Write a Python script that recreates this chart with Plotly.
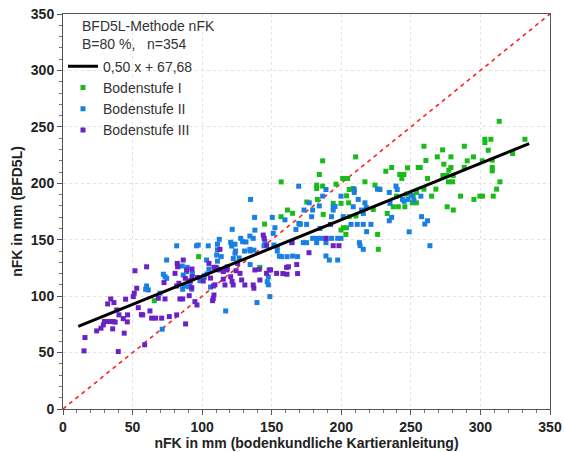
import plotly.graph_objects as go

# ---------------- data ----------------
green_x = [65.6, 97.5, 141.5, 144.9, 156.7, 156.8, 161.3, 165.0,
           313.5, 332.0, 303.2, 307.5, 303.2, 305.6, 323.1, 288.4, 295.0, 301.3, 308.5, 308.5, 308.5,
           314.0, 311.6, 309.2, 299.6, 301.5, 295.3, 285.7, 290.5, 288.4, 278.8, 278.8, 272.8, 269.0,
           273.7, 277.3, 276.0, 273.0, 280.5, 277.0, 280.0, 268.0, 264.9, 276.1, 280.5, 259.4, 260.8,
           262.0, 259.4, 255.3, 256.7, 247.6, 242.0, 245.0, 243.5, 247.0, 254.1, 251.7, 251.0, 254.0,
           245.7, 241.0, 237.4, 239.7, 236.2, 232.0, 233.0, 226.1, 226.6, 224.2, 227.8, 223.0, 217.0,
           210.3, 210.5, 205.7, 208.6, 203.8, 205.3, 199.8, 205.7, 199.8, 203.8, 201.5, 203.3, 201.0,
           204.5, 196.2, 194.2, 186.6, 184.2, 182.3, 182.3, 186.6, 182.8, 187.0, 175.2, 170.6]
green_y = [96.0, 135.0, 125.5, 163.8, 170.4, 201.2, 176.3, 173.4,
           254.9, 239.0, 239.0, 239.0, 236.0, 229.3, 226.4, 232.8, 223.4, 219.9, 220.5, 214.0, 211.0,
           201.3, 194.8, 188.6, 188.6, 188.6, 185.7, 188.6, 219.9, 214.0, 223.4, 214.0, 229.6, 223.4,
           216.9, 211.6, 207.0, 207.0, 207.0, 201.3, 201.3, 194.8, 188.6, 179.2, 176.3, 232.8, 220.2,
           204.3, 194.8, 214.0, 214.0, 213.7, 207.8, 207.8, 204.3, 190.4, 191.9, 188.6, 182.7, 182.7,
           179.2, 179.2, 179.2, 188.6, 214.0, 210.7, 173.3, 154.7, 141.5, 198.4, 194.5, 176.8, 201.3,
           223.4, 171.0, 194.5, 195.4, 188.9, 182.7, 182.2, 170.4, 158.6, 160.6, 160.6, 154.7, 204.3,
           204.3, 199.2, 182.2, 219.9, 207.8, 198.4, 195.4, 197.5, 185.7, 172.4, 183.4, 164.0]

blue_x = [60.1, 59.4, 61.3, 69.7, 71.3, 72.1, 73.3, 74.5, 74.5, 81.7, 85.7, 86.9, 86.0, 86.4, 89.3, 88.9,
          90.0, 91.2, 92.5, 93.0, 96.0, 97.2, 98.4, 101.3, 101.5, 103.2, 104.4, 104.9, 103.4, 106.0,
          110.4, 111.0, 111.0, 111.0, 112.3, 113.7, 116.9, 118.0, 120.5, 121.2, 121.6, 122.4, 123.6,
          123.6, 124.0, 126.6, 127.7, 129.1, 130.5, 131.5, 134.8, 134.3, 134.3, 134.5, 134.5, 136.7,
          137.9, 137.2, 137.7, 139.4, 144.5, 145.1, 146.8, 147.6, 147.6, 148.7, 150.4, 151.1, 151.6,
          152.3, 154.0, 154.0, 157.0, 159.5, 161.0, 155.5, 165.0, 164.5, 168.6, 169.4, 169.5, 167.4,
          239.3, 240.2, 234.5, 244.0, 248.0, 248.8, 257.2, 257.7, 260.0, 262.0, 263.7, 235.0, 234.5,
          236.2, 226.0, 227.5, 214.6, 215.8, 217.0, 212.2, 208.6, 207.0, 211.5, 215.8, 221.3, 209.3,
          209.3, 199.8, 201.4, 218.2, 213.0, 213.5, 215.8, 199.8, 197.4, 193.0, 189.0, 185.4, 182.3,
          179.4, 189.0, 182.3, 175.1, 172.7, 194.2, 194.2, 195.5, 193.0, 189.0, 186.6, 184.2, 179.4,
          173.2, 177.0, 178.7, 175.1, 170.3, 184.7, 189.0, 191.4, 197.4, 245.2, 250.5, 252.2, 218.0]
blue_y = [109.0, 106.1, 105.5, 102.6, 70.7, 119.4, 117.2, 115.8, 132.0, 144.6, 126.7, 109.3, 106.1,
          118.7, 125.5, 121.7, 108.4, 109.0, 106.1, 120.0, 144.6, 145.3, 113.7, 117.9, 116.7, 132.0,
          144.6, 124.0, 119.6, 108.0, 136.4, 131.0, 141.0, 146.0, 150.3, 135.0, 86.9, 126.0, 147.7,
          144.4, 159.2, 133.3, 146.0, 138.0, 140.0, 133.8, 151.2, 148.2, 140.0, 148.0, 185.7, 153.2,
          141.5, 140.0, 128.0, 151.2, 158.5, 140.8, 169.8, 94.3, 144.6, 148.2, 112.8, 117.0, 110.0,
          99.6, 169.8, 155.6, 145.3, 160.6, 140.0, 144.0, 135.0, 167.6, 135.0, 135.5, 135.5, 147.3,
          135.0, 197.4, 164.4, 159.1,
          197.5, 194.5, 191.9, 185.7, 185.7, 157.0, 188.6, 170.4, 163.9, 166.8, 144.7, 182.2, 166.8,
          169.8, 194.8, 194.8, 176.3, 173.3, 182.7, 185.7, 179.2, 163.6, 163.6, 163.6, 163.6, 194.5,
          191.9, 188.6, 170.4, 157.1, 147.4, 144.7, 141.5, 151.2, 151.2, 151.2, 151.2, 151.2, 151.2,
          151.2, 147.4, 147.4, 147.4, 147.4, 179.2, 176.3, 179.5, 170.4, 194.5, 188.6, 180.0, 176.3,
          176.3, 182.7, 170.4, 163.6, 163.6, 160.0, 135.6, 132.0, 132.0, 184.0, 189.5, 185.0, 178.6]

purple_x = [15.1, 15.8, 24.2, 27.3, 29.0, 29.7, 32.0, 34.0, 36.1, 37.5, 35.7, 32.1, 34.3, 36.6, 38.6,
            40.2, 39.7, 43.3, 44.0, 46.2, 46.4, 45.0, 50.5, 51.2, 53.0, 54.1, 51.7, 56.3, 57.3, 58.7,
            60.1, 62.5, 63.7, 66.6, 68.5, 70.9, 72.6, 73.3, 76.4, 80.5, 81.7, 81.7, 82.1, 82.4, 83.3,
            84.0, 86.0, 86.4, 88.1, 87.9, 88.9, 90.5, 91.5, 90.7, 92.5, 92.7, 92.7, 94.8, 96.3, 96.7,
            100.8, 104.9, 106.0, 107.5, 108.0, 108.5, 108.0, 109.2, 108.5, 110.0, 111.0, 112.3, 112.8,
            115.2, 116.4, 117.6, 115.2, 118.0, 120.5, 121.5, 122.3, 124.4, 125.5, 127.2, 128.4, 130.7,
            136.7, 137.2, 137.9, 141.0, 141.5, 143.9, 144.6, 146.3, 146.3, 148.2, 149.2, 153.5, 158.0,
            160.7, 161.0, 162.0, 164.5, 168.0, 168.6, 176.8, 192.3, 189.0, 194.2, 198.3]
purple_y = [51.5, 63.3, 69.2, 71.6, 74.5, 77.5, 77.5, 77.5, 77.5, 77.0, 71.0, 93.1, 97.5, 94.3, 87.8,
            83.4, 50.9, 80.1, 67.2, 77.2, 83.4, 97.3, 99.6, 102.6, 107.0, 89.8, 122.5, 83.6, 83.4, 56.9,
            126.0, 86.9, 80.5, 80.5, 98.1, 80.5, 112.0, 97.5, 81.9, 120.2, 83.4, 109.0, 129.0, 126.0,
            111.4, 97.5, 97.5, 132.0, 75.4, 115.8, 123.2, 113.4, 113.4, 100.4, 107.5, 117.0, 124.0,
            95.1, 92.2, 116.5, 113.4, 129.0, 116.0, 96.0, 98.1, 101.0, 109.0, 110.0, 125.5, 125.5,
            124.0, 123.2, 141.5, 121.7, 109.9, 123.2, 115.0, 124.0, 117.2, 113.0, 109.9, 122.5, 129.0,
            120.2, 114.3, 109.9, 109.9, 107.0, 123.2, 123.8, 114.3, 154.1, 151.2, 120.2, 145.0, 123.2,
            123.2, 120.2, 120.0, 125.5, 119.4, 126.0, 147.6, 128.0, 120.0, 138.5, 163.6, 151.2, 144.7,
            144.7]

slope = 0.50
intercept = 67.68
fit_x = [11, 335]
diag = [0, 350]
ticks = [0, 50, 100, 150, 200, 250, 300, 350]

header_lines = ["BFD5L-Methode nFK", "B=80 %,   n=354"]
fit_label = "0,50 x + 67,68"
names = ["Bodenstufe I", "Bodenstufe II", "Bodenstufe III"]
colors = ["#19bb19", "#1a7fe3", "#6a22c6"]

FONT = "Liberation Sans, Arial, sans-serif"

# ---------------- figure ----------------
fig = go.Figure()

fig.add_trace(go.Scatter(x=diag, y=diag, mode="lines", showlegend=False,
                         line=dict(color="#ff2020", width=1.6, dash="4px,4px"), hoverinfo="skip"))

for xs, ys, nm, c in [(green_x, green_y, names[0], colors[0]),
                      (blue_x, blue_y, names[1], colors[1]),
                      (purple_x, purple_y, names[2], colors[2])]:
    fig.add_trace(go.Scatter(x=xs, y=ys, mode="markers", name=nm,
                             marker=dict(symbol="square", size=5, color=c, line=dict(width=0))))

fit_y = [slope * v + intercept for v in fit_x]
fig.add_trace(go.Scatter(x=fit_x, y=fit_y, mode="lines", name=fit_label,
                         line=dict(color="black", width=3), legendrank=1))

axis_common = dict(
    range=[0, 350], tickvals=ticks, showgrid=True, gridcolor="#e2e2e2", griddash="dot", gridwidth=1,
    showline=True, linecolor="#555555", linewidth=1, mirror=True,
    ticks="outside", ticklen=5, tickcolor="#555555",
    minor=dict(dtick=10, ticks="outside", ticklen=3, tickcolor="#777777", showgrid=False),
    tickfont=dict(family=FONT, size=14, color="#222222", weight="bold"),
    zeroline=False, automargin=False,
)

fig.update_layout(
    width=564, height=452,
    margin=dict(l=63, r=14, t=14, b=43, autoexpand=False),
    paper_bgcolor="white", plot_bgcolor="white",
    font=dict(family=FONT, size=14, color="#333333"),
    xaxis=dict(axis_common, title=dict(text="<b>nFK in mm (bodenkundliche Kartieranleitung)</b>",
                                       font=dict(size=14, color="#222222"), standoff=2)),
    yaxis=dict(axis_common, title=dict(text="<b>nFK in mm (BFD5L)</b>",
                                       font=dict(size=14, color="#222222"), standoff=4)),
    legend=dict(x=0.0, y=0.907, xanchor="left", yanchor="top", bgcolor="rgba(0,0,0,0)",
                font=dict(size=14, color="#333333"), itemwidth=30, tracegroupgap=0,
                traceorder="normal"),
    showlegend=True,
)

for i, txt in enumerate(header_lines):
    fig.add_annotation(text=txt, xref="paper", yref="paper", x=0.035, y=0.9696 - i * 0.046,
                       xanchor="left", yanchor="middle", showarrow=False,
                       font=dict(family=FONT, size=14, color="#333333"))

fig.write_html("out.html", post_script="document.body.style.margin='0';",
               config={"displayModeBar": False})
